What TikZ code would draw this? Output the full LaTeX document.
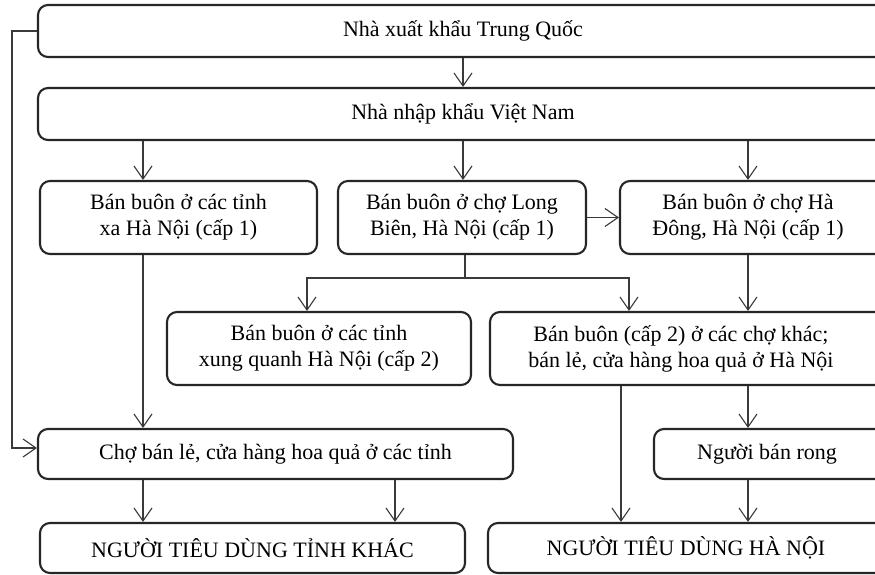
\documentclass[tikz,border=0pt]{standalone}
\usepackage{fontspec}
\setmainfont{Liberation Serif}
\usetikzlibrary{arrows.meta}
\definecolor{boxline}{HTML}{262626}
\definecolor{conline}{HTML}{3A3A3A}
\tikzset{
  box/.style={draw=boxline, line width=2.1pt, rounded corners=10pt, rectangle, inner sep=0pt},
  txt/.style={align=center, font=\fontsize{22}{26}\selectfont, text=black, inner sep=0pt},
  con/.style={draw=conline, line width=1.1pt},
  arr/.style={con, -{Straight Barb[length=13pt, width=18pt, line width=1.1pt]}}
}
\begin{document}
\begin{tikzpicture}[x=1pt, y=-1pt]
\clip (0,0) rectangle (875,575);
\useasboundingbox (0,0) rectangle (875,575);
\fill[white] (0,0) rectangle (875,575);

% boxes
\node[box, minimum width=847pt, minimum height=52pt] (A) at (461.5,31) {};
\node[txt] (At) at (463,31) {Nhà xuất khẩu Trung Quốc};
\node[box, minimum width=847pt, minimum height=52pt] (B) at (461.5,114) {};
\node[txt] (Bt) at (463,114) {Nhà nhập khẩu Việt Nam};

\node[box, txt, minimum width=277pt, minimum height=73pt] (C1) at (178.5,217.5) {Bán buôn ở các tỉnh\\xa Hà Nội (cấp 1)};
\node[box, txt, minimum width=248pt, minimum height=73pt] (C2) at (462,217.5) {Bán buôn ở chợ Long\\Biên, Hà Nội (cấp 1)};
\node[box, minimum width=265pt, minimum height=73pt] (C3) at (752.5,217.5) {};
\node[txt] (C3t) at (748,217.5) {Bán buôn ở chợ Hà\\Đông, Hà Nội (cấp 1)};

\node[box, txt, minimum width=304pt, minimum height=73pt] (D1) at (319,348.5) {Bán buôn ở các tỉnh\\xung quanh Hà Nội (cấp 2)};
\node[box, minimum width=395pt, minimum height=73pt] (D2) at (687.5,348.5) {};
\node[txt] (D2t) at (681,348.5) {Bán buôn (cấp 2) ở các chợ khác;\\bán lẻ, cửa hàng hoa quả ở Hà Nội};

\node[box, txt, minimum width=475pt, minimum height=50pt] (E1) at (275.5,454) {Chợ bán lẻ, cửa hàng hoa quả ở các tỉnh};
\node[box, minimum width=231pt, minimum height=50pt] (E2) at (769.5,454) {};
\node[txt] (E2t) at (767,454) {Người bán rong};

\node[box, txt, minimum width=425pt, minimum height=50pt] (F1) at (252.5,548) {NGƯỜI TIÊU DÙNG TỈNH KHÁC};
\node[box, minimum width=397pt, minimum height=50pt] (F2) at (686.5,548) {};
\node[txt] (F2t) at (686,548) {NGƯỜI TIÊU DÙNG HÀ NỘI};

% helper coordinates for connector columns
\coordinate (x143) at (143,0);
\coordinate (x463) at (463,0);
\coordinate (x748) at (748,0);
\coordinate (x307) at (307,0);
\coordinate (x629) at (629,0);
\coordinate (x395) at (395,0);
\coordinate (x621) at (621,0);
\coordinate (split) at (465,278);
\coordinate (fbtop) at (12,31);
\coordinate (fbbot) at (12,448);

% connectors
\draw[arr] (A.south -| x463) -- (B.north -| x463);
\draw[arr] (B.south -| x143) -- (C1.north -| x143);
\draw[arr] (B.south -| x463) -- (C2.north -| x463);
\draw[arr] (B.south -| x748) -- (C3.north -| x748);
\draw[arr] (C2.east) -- (C3.west);
\draw[con] (C2.south -| split) -- (split);
\draw[arr] (split) -| (D1.north -| x307);
\draw[arr] (split) -| (D2.north -| x629);
\draw[arr] (C3.south -| x748) -- (D2.north -| x748);
\draw[arr] (C1.south -| x143) -- (E1.north -| x143);
\draw[arr] (A.west) -- (fbtop) -- (fbbot) -- (E1.west |- fbbot);
\draw[arr] (E1.south -| x143) -- (F1.north -| x143);
\draw[arr] (E1.south -| x395) -- (F1.north -| x395);
\draw[arr] (D2.south -| x621) -- (F2.north -| x621);
\draw[arr] (D2.south -| x748) -- (E2.north -| x748);
\draw[arr] (E2.south -| x748) -- (F2.north -| x748);
\end{tikzpicture}
\end{document}
